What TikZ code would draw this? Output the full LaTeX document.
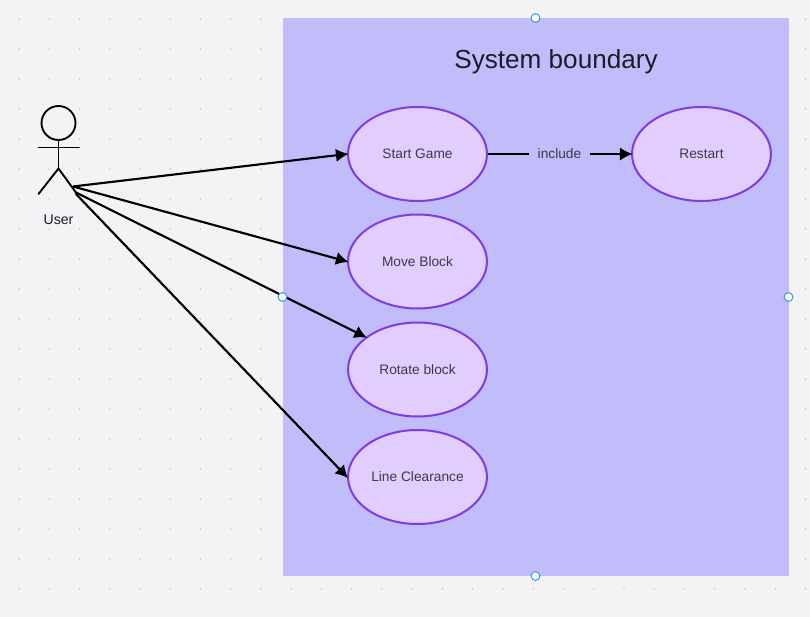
\documentclass[tikz,border=0pt]{standalone}
\usepackage{fontspec}
\setmainfont{Liberation Sans}
\usetikzlibrary{shapes.geometric,arrows.meta}
\definecolor{bgc}{HTML}{F3F3F5}
\definecolor{dotc}{HTML}{C4C4C8}
\definecolor{boxc}{HTML}{C1BDFB}
\definecolor{ellf}{HTML}{E1CDFE}
\definecolor{elld}{HTML}{7E3BE8}
\definecolor{txtc}{HTML}{3A3A48}
\definecolor{titc}{HTML}{1C1C28}
\definecolor{hand}{HTML}{3B9BEA}
\newcommand{\lowered}[1]{\raisebox{-0.7pt}{#1}}
\tikzset{
  x=0.75pt,y=-0.75pt,
  usecase/.style={ellipse,draw=elld,fill=ellf,line width=1.5pt,minimum width=104.2pt,minimum height=70.5pt,inner sep=0pt,text=txtc,font=\fontsize{10.3}{12}\selectfont},
  conn/.style={draw=black,line width=1.6pt,shorten >=-1.2pt,-{Latex[length=9.5pt,width=10pt]}},
  limb/.style={draw=black,line width=1.4pt,line cap=round},
  handle/.style={circle,draw=hand,fill=white,line width=0.8pt,minimum size=6.6pt,inner sep=0pt},
}
\begin{document}
\begin{tikzpicture}
\useasboundingbox (0,0) rectangle (810,617);
\fill[bgc] (0,0) rectangle (810,617);
\foreach \i in {0,...,26}{\foreach \j in {0,...,19}{
  \fill[dotc] ({19+30.25*\i},{19+30*\j}) circle (0.6pt);
}}
\node[fill=boxc,inner sep=0pt,minimum width=379.5pt,minimum height=418.5pt] (boundary) at (535.5,297) {};
\node[text=titc,font=\fontsize{19.6}{23}\selectfont,inner sep=0pt] (title) at (556,62) {System boundary};
\node[usecase] (start) at (417.5,154) {\lowered{Start Game}};
\node[usecase] (restart) at (701.5,154) {\lowered{Restart}};
\node[usecase] (move) at (417.5,261.5) {\lowered{Move Block}};
\node[usecase] (rotate) at (417.5,369.5) {\lowered{Rotate block}};
\node[usecase] (line) at (417.5,477) {\lowered{Line Clearance}};
% actor
\node[circle,draw=black,line width=1.4pt,minimum size=25.5pt,inner sep=0pt] (head) at (58.5,123) {};
\coordinate (hip) at (58.5,168.5);
\coordinate (armL) at (38.5,147.5);
\coordinate (armR) at (79,147.5);
\coordinate (legL) at (38.5,194);
\coordinate (legR) at (77,194);
\draw[limb] (head.south) -- (hip);
\draw[limb] (armL) -- (armR);
\draw[limb] (legL) -- (hip) -- (legR);
\node[text=titc,font=\fontsize{10.6}{12}\selectfont,inner sep=0pt] (user) at (58.5,219.5) {User};
\coordinate (u1) at (73,186.5);
\coordinate (u2) at (75,192);
\coordinate (u3) at (76,194);
% connectors
\draw[conn] (u1) -- (start.west);
\draw[conn] (u1) -- (move.west);
\draw[conn] (u2) -- (rotate.148);
\draw[conn] (u3) -- (line.west);
\draw[conn] (start.east) -- node[fill=boxc,text=txtc,font=\fontsize{10.3}{12}\selectfont,inner sep=0pt,minimum width=46pt,minimum height=14pt] (inc) {\lowered{include}} (restart.west);
% handles
\node[handle] (h1) at (535.5,18) {};
\node[handle] (h2) at (282.5,297) {};
\node[handle] (h3) at (788.5,297) {};
\node[handle] (h4) at (535.5,576) {};
\end{tikzpicture}
\end{document}
